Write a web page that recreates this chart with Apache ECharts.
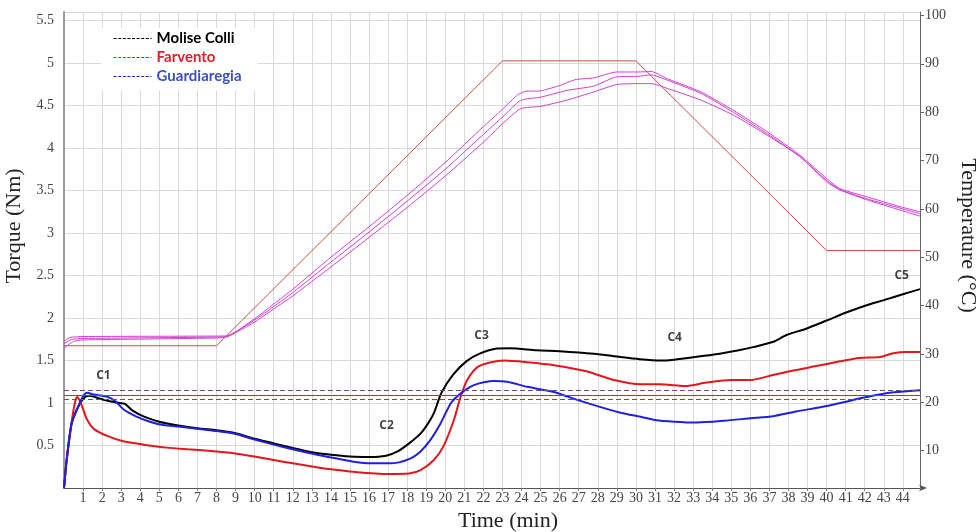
<!DOCTYPE html>
<html>
<head>
<meta charset="utf-8">
<script src="https://cdn.jsdelivr.net/npm/echarts@6/dist/echarts.min.js"></script>
<style>
html,body{margin:0;padding:0;background:#fff;}
#chart{width:976px;height:532px;}
</style>
</head>
<body>
<div id="chart"></div>
<script>
// ---- Data (time in min, torque in Nm, temperature in °C) ----
const seriesNames = ['Molise Colli', 'Farvento', 'Guardiaregia'];

const molise = [[0,0],[0.15,0.35],[0.4,0.76],[0.8,0.98],[1.1,1.07],[1.35,1.085],[1.9,1.05],[2.4,1.02],[2.9,1.0],[3.2,0.99],[3.6,0.91],[4.2,0.84],[5.0,0.78],[6.0,0.735],[7.1,0.70],[8.0,0.68],[8.9,0.65],[10.0,0.58],[11.0,0.525],[12.0,0.47],[13.0,0.42],[14.0,0.39],[15.0,0.37],[16.0,0.365],[16.9,0.38],[17.5,0.43],[18.1,0.525],[18.7,0.64],[19.1,0.76],[19.4,0.88],[19.8,1.12],[20.4,1.33],[21.1,1.49],[21.8,1.58],[22.7,1.64],[23.4,1.645],[24.8,1.62],[26.0,1.61],[27.8,1.58],[29.2,1.54],[30.2,1.515],[31.3,1.50],[32.0,1.51],[33.4,1.55],[34.4,1.58],[35.4,1.62],[36.2,1.66],[37.2,1.72],[37.9,1.80],[39.0,1.88],[40.0,1.97],[41.1,2.07],[42.1,2.15],[43.0,2.21],[44.0,2.28],[44.9,2.34]];

const farvento = [[0,0],[0.15,0.35],[0.3,0.6],[0.45,0.85],[0.6,1.03],[0.7,1.07],[0.8,1.04],[0.95,0.96],[1.2,0.81],[1.6,0.69],[2.3,0.61],[3.1,0.55],[4.2,0.51],[5.4,0.475],[6.5,0.455],[8.0,0.43],[8.9,0.41],[10.0,0.37],[11.0,0.33],[12.0,0.29],[13.1,0.25],[14.0,0.22],[15.2,0.19],[17.0,0.165],[18.1,0.17],[18.7,0.21],[19.4,0.33],[19.9,0.49],[20.45,0.80],[20.8,1.07],[21.15,1.27],[21.7,1.425],[22.4,1.48],[23.1,1.50],[24.3,1.48],[25.7,1.445],[27.45,1.37],[28.85,1.27],[30.25,1.22],[31.3,1.22],[32.0,1.21],[32.6,1.20],[33.7,1.24],[35.0,1.27],[36.0,1.27],[37.2,1.33],[38.2,1.38],[39.6,1.44],[40.7,1.49],[41.7,1.53],[42.8,1.54],[43.5,1.585],[44.2,1.60],[44.9,1.60]];

const guardiaregia = [[0,0],[0.15,0.35],[0.4,0.76],[0.8,0.99],[1.0,1.08],[1.2,1.12],[1.55,1.10],[2.3,1.07],[2.7,1.02],[3.15,0.92],[3.8,0.84],[4.5,0.78],[5.2,0.74],[6.1,0.72],[7.2,0.69],[8.0,0.67],[8.9,0.64],[10.0,0.57],[11.0,0.51],[12.0,0.455],[13.1,0.40],[14.0,0.36],[15.2,0.31],[16.1,0.29],[17.1,0.29],[18.1,0.34],[18.7,0.43],[19.2,0.56],[19.75,0.76],[20.3,1.0],[20.8,1.11],[21.5,1.21],[22.55,1.26],[23.25,1.25],[24.3,1.19],[25.7,1.13],[26.6,1.06],[27.8,0.975],[29.2,0.885],[30.3,0.835],[31.0,0.80],[32.0,0.78],[33.2,0.77],[34.6,0.79],[36.0,0.82],[37.2,0.845],[38.4,0.90],[39.8,0.955],[40.9,1.01],[42.1,1.07],[43.3,1.12],[44.9,1.15]];

// Temperature set profile and measured dough temperatures
const tempSet = [[0,31.7],[8,31.7],[23,90.6],[30,90.6],[40,51.4],[44.9,51.4]];

const tempA = [[0,32.6],[0.3,33.4],[1,33.6],[8,33.7],[8.6,33.8],[10,37.3],[11,40.3],[12,43.4],[14,50.0],[16,56.3],[18,62.8],[20,69.6],[22,77.0],[23,80.6],[23.8,83.6],[24.2,84.3],[25,84.4],[26,85.5],[26.8,86.7],[27.8,87.1],[29,88.3],[30.1,88.3],[30.8,88.4],[31.65,86.9],[33.4,84.2],[35.1,80.4],[36.9,75.9],[38.6,71.1],[40,66.3],[40.7,64.2],[42.1,62.5],[43.9,60.4],[44.9,59.4]];

const tempB = [[0,32.1],[0.4,33.0],[1,33.2],[8,33.5],[8.6,33.7],[10,37.0],[11,39.8],[12,42.7],[14,49.0],[16,55.2],[18,61.6],[20,68.2],[22,75.4],[23,79.0],[23.95,82.4],[25,83.1],[26.4,84.5],[27.8,85.4],[29,87.3],[30.1,87.4],[30.8,87.7],[31.65,86.6],[33.4,83.9],[35.1,80.0],[36.9,75.5],[38.6,70.8],[40,65.9],[40.7,64.0],[42.1,62.1],[43.9,60.1],[44.9,59.0]];

const tempC = [[0,31.2],[0.5,32.6],[1,32.9],[8,33.3],[8.6,33.6],[10,36.6],[11,39.3],[12,42.0],[14,48.0],[16,54.1],[18,60.3],[20,66.8],[22,73.8],[23,77.6],[23.95,80.7],[25,81.2],[26.4,82.5],[27.8,84.2],[29,85.7],[30.1,85.9],[30.8,85.9],[31.65,84.9],[33.4,82.5],[35.1,79.4],[36.9,75.2],[38.6,70.8],[40,65.6],[40.7,63.9],[42.1,61.9],[43.9,59.7],[44.9,58.5]];

// C1 target band (Nm): upper, centre, lower
const c1Band = [1.15, 1.09, 1.045];

// Curve point labels [time, torque, text]
const pointLabels = [[2.07,1.32,'C1'],[16.92,0.74,'C2'],[21.9,1.79,'C3'],[32.03,1.77,'C4'],[43.94,2.50,'C5']];

// Tick labels
const tempTicks = [10,20,30,40,50,60,70,80,90,100];

// ---- Chart ----
const chart = echarts.init(document.getElementById('chart'), null, {renderer:'canvas'});
const serif = "'Liberation Serif', 'DejaVu Serif', serif";
const torqueColors = ['#000000', '#e3161d', '#1f1fe0'];
const legendTextColors = ['#000000', '#e3202a', '#3d4fc4'];
const magenta = '#d23fd2';

const option = {
  animation: false,
  backgroundColor: '#fff',
  grid: {left: 64, right: 56, top: 12, bottom: 44, containLabel: false, outerBoundsMode: 'none'},
  legend: {
    show: true,
    orient: 'vertical',
    left: 101, top: 28,
    padding: [3, 16, 7, 12],
    backgroundColor: '#ffffff',
    itemWidth: 38, itemHeight: 14, itemGap: 4,
    itemStyle: {opacity: 0, borderWidth: 0},
    lineStyle: {type: [3, 1.6], width: 1.2, opacity: 1},
    textStyle: {fontFamily: 'Lato, "Open Sans", sans-serif', fontWeight: 'bold', fontSize: 15},
    data: seriesNames.map((n, i) => ({name: n, textStyle: {color: legendTextColors[i]}}))
  },
  xAxis: {
    type: 'value', min: 0, max: 44.9, interval: 1,
    axisLine: {show: true, lineStyle: {color: '#555', width: 1}, symbol: ['none', 'arrow'], symbolSize: [5, 8], symbolOffset: [0, 7]},
    axisTick: {show: true, length: 3, lineStyle: {color: '#777'}},
    axisLabel: {fontFamily: serif, fontSize: 14, color: '#444', margin: 3, showMinLabel: false, showMaxLabel: false},
    splitLine: {show: true, lineStyle: {color: '#d9d9d9', width: 1}},
    name: 'Time (min)', nameLocation: 'middle', nameGap: 20,
    nameTextStyle: {fontFamily: serif, fontSize: 22, color: '#222', padding: [0, 0, 0, 32]}
  },
  yAxis: [
    {
      type: 'value', min: 0, max: 5.6, interval: 0.5, position: 'left',
      axisLine: {show: true, lineStyle: {color: '#9a9a9a', width: 2}},
      axisTick: {show: false},
      axisLabel: {fontFamily: serif, fontSize: 14, color: '#444', margin: 10, showMinLabel: false, showMaxLabel: false},
      splitLine: {show: true, lineStyle: {color: '#d9d9d9', width: 1}},
      name: 'Torque (Nm)', nameLocation: 'middle', nameGap: 32, nameRotate: 90,
      nameTextStyle: {fontFamily: serif, fontSize: 22, color: '#222', padding: [0, 0, 0, 48]}
    },
    {
      type: 'value', min: 2.29, max: 100.7, position: 'right',
      axisLine: {show: true, lineStyle: {color: '#666', width: 1}},
      axisTick: {show: true, inside: false, length: 4, lineStyle: {color: '#666'}, customValues: tempTicks},
      axisLabel: {fontFamily: serif, fontSize: 14, color: '#444', margin: 5, customValues: tempTicks},
      splitLine: {show: false},
      name: 'Temperature (°C)', nameLocation: 'middle', nameGap: 31, nameRotate: -90,
      nameTextStyle: {fontFamily: serif, fontSize: 22, color: '#222', padding: [0, 29, 0, 0]}
    }
  ],
  series: [
    {
      name: 'Temperature set', type: 'line', yAxisIndex: 1, data: tempSet,
      showSymbol: false, symbol: 'none', lineStyle: {color: '#c4504a', width: 1}, z: 2, silent: true
    },
    {name: 'T1', type: 'line', yAxisIndex: 1, data: tempA, symbol: 'none', smooth: 0.2, lineStyle: {color: magenta, width: 1}, z: 2, silent: true},
    {name: 'T2', type: 'line', yAxisIndex: 1, data: tempB, symbol: 'none', smooth: 0.2, lineStyle: {color: magenta, width: 1}, z: 2, silent: true},
    {name: 'T3', type: 'line', yAxisIndex: 1, data: tempC, symbol: 'none', smooth: 0.2, lineStyle: {color: magenta, width: 1}, z: 2, silent: true},
    {
      name: seriesNames[0], type: 'line', yAxisIndex: 0, data: molise, symbol: 'none', smooth: 0.25,
      itemStyle: {color: torqueColors[0]}, lineStyle: {color: torqueColors[0], width: 2}, z: 4,
      markLine: {
        silent: true, symbol: 'none', label: {show: false},
        lineStyle: {color: '#7b3f8f', width: 1},
        data: c1Band.map((v, i) => ({yAxis: v, lineStyle: {color: '#7b3f8f', width: 1, type: i === 1 ? 'solid' : [5, 3]}}))
      }
    },
    {
      name: seriesNames[1], type: 'line', yAxisIndex: 0, data: farvento, symbol: 'none', smooth: 0.25,
      itemStyle: {color: torqueColors[1]}, lineStyle: {color: torqueColors[1], width: 2}, z: 4
    },
    {
      name: seriesNames[2], type: 'line', yAxisIndex: 0, data: guardiaregia, symbol: 'none', smooth: 0.25,
      itemStyle: {color: torqueColors[2]}, lineStyle: {color: torqueColors[2], width: 2}, z: 4
    },
    {
      name: 'labels', type: 'scatter', yAxisIndex: 0, data: pointLabels, symbolSize: 1,
      itemStyle: {color: 'rgba(0,0,0,0)'}, silent: true, z: 5,
      label: {show: true, position: 'inside', formatter: p => p.data[2],
        fontFamily: '"Open Sans", Lato, sans-serif', fontWeight: 'bold', fontSize: 12, color: '#111'}
    }
  ]
};
chart.setOption(option);
</script>
</body>
</html>
